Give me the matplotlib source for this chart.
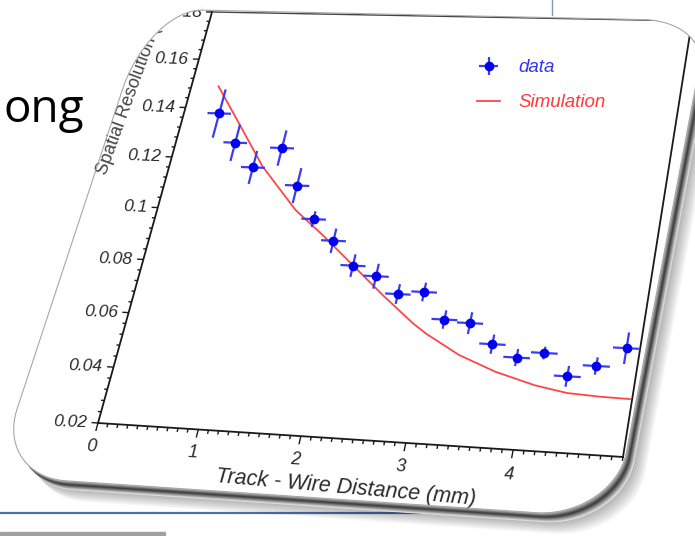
import numpy as np
import matplotlib
matplotlib.use("Agg")
import matplotlib.pyplot as plt
from matplotlib.transforms import Transform, Affine2D
from matplotlib.patches import Polygon, Rectangle
from matplotlib.collections import LineCollection

# ---------------- data ----------------
x_data = [0.375, 0.625, 0.875, 1.125, 1.375, 1.625, 1.875, 2.125, 2.375, 2.625,
          2.875, 3.125, 3.375, 3.625, 3.875, 4.125, 4.375, 4.625, 4.875]
y_data = [0.138, 0.1265, 0.117, 0.125, 0.1106, 0.098, 0.0902, 0.0813, 0.0778, 0.0717,
          0.0729, 0.0634, 0.0626, 0.0556, 0.0514, 0.0535, 0.0459, 0.0500, 0.0567]
x_err = [0.125] * 19
y_err = [0.0098, 0.0073, 0.0065, 0.0070, 0.0068, 0.0030, 0.0046, 0.0042, 0.0046, 0.0036,
         0.0034, 0.0033, 0.0039, 0.0034, 0.0030, 0.0022, 0.0036, 0.0030, 0.0055]
sim_x = [0.29, 0.64, 0.97, 1.42, 1.77, 2.10, 2.49, 2.83, 2.98, 3.33, 3.70, 4.09, 4.40, 4.71, 4.98]
sim_y = [0.149, 0.1329, 0.1176, 0.1012, 0.0917, 0.0821, 0.0708, 0.0615, 0.0580, 0.0512,
         0.0461, 0.0422, 0.0402, 0.0396, 0.0394]
x_ticks = [0, 1, 2, 3, 4]
x_tick_labels = ["0", "1", "2", "3", "4"]
y_ticks = [0.02, 0.04, 0.06, 0.08, 0.10, 0.12, 0.14, 0.16, 0.18]
y_tick_labels = ["0.02", "0.04", "0.06", "0.08", "0.1", "0.12", "0.14", "0.16", "0.18"]
x_label = "Track - Wire Distance (mm)"
y_label = "Spatial Resolution (mm)"
legend_labels = ["data", "Simulation"]
XMIN, XMAX, YMIN, YMAX = 0.0, 5.0, 0.02, 0.18


# ---------------- perspective transform ----------------
class Homography(Transform):
    input_dims = 2
    output_dims = 2
    is_separable = False
    has_inverse = True

    def __init__(self, H):
        super().__init__()
        self.H = np.asarray(H, float)

    def transform_non_affine(self, values):
        v = np.asarray(values, float)
        shp = v.shape
        v = v.reshape(-1, 2)
        p = np.column_stack([v, np.ones(len(v))]) @ self.H.T
        out = p[:, :2] / p[:, 2:3]
        return out.reshape(shp)

    def inverted(self):
        return Homography(np.linalg.inv(self.H))


def solve_h(src, dst):
    A, b = [], []
    for (x, y), (u, v) in zip(src, dst):
        A.append([x, y, 1, 0, 0, 0, -u * x, -u * y]); b.append(u)
        A.append([0, 0, 0, x, y, 1, -v * x, -v * y]); b.append(v)
    h = np.linalg.solve(np.array(A, float), np.array(b, float))
    return np.append(h, 1.0).reshape(3, 3)


W, HH = 695, 536
DPI = 100
fig = plt.figure(figsize=(W / DPI, HH / DPI), dpi=DPI)
bg = fig.add_axes([0, 0, 1, 1])
bg.set_xlim(0, W)
bg.set_ylim(HH, 0)
bg.axis("off")
bg.set_autoscale_on(False)

# ---------------- slide background ----------------
bg.plot([0, 470], [513, 513], color="#4f6fa8", lw=1.6, zorder=0.5)
bg.add_patch(Rectangle((0, 532), 165, 6, color="#a0a0a0", zorder=0.5))
bg.plot([552, 552], [0, 15], color="#8498bb", lw=1.0, zorder=0.5)
bg.text(3, 122, "ong", fontsize=33, family="Open Sans", color="black",
        va="baseline", ha="left", zorder=0.6)

# ---------------- card ----------------
card_H = solve_h([(0, 0), (1, 0), (1, 1), (0, 1)],
                 [(-5, 476), (614, 518), (708, 21), (149, 9)])
card_hom = Homography(card_H)
card_tr = card_hom + bg.transData


def rounded_rect(radii, n=40):
    (r1u, r1w), (r2u, r2w), (r3u, r3w), (r4u, r4w) = radii
    specs = [(1 - r1u, r1w, r1u, r1w, -90), (1 - r2u, 1 - r2w, r2u, r2w, 0),
             (r3u, 1 - r3w, r3u, r3w, 90), (r4u, r4w, r4u, r4w, 180)]
    pts = []
    for cx, cy, ru, rw, a0 in specs:
        a = np.radians(np.linspace(a0, a0 + 90, n))
        pts.append(np.column_stack([cx + ru * np.cos(a), cy + rw * np.sin(a)]))
    return np.vstack(pts)


card_pts = rounded_rect([(0.12, 0.12), (0.11, 0.10), (0.10, 0.19), (0.12, 0.13)])
for k in range(12):
    bg.add_patch(Polygon(card_pts, closed=True, fc="black", ec="none", alpha=0.028,
                         transform=card_tr + Affine2D().translate(8 + k * 1.0, -(9 + k * 1.1)),
                         zorder=1))
nb = 14
for i in range(nb, 0, -1):
    t = i / nb
    g = float(np.clip(0.22 + 1.25 * abs(t - 0.45), 0.22, 0.88))
    bg.add_patch(Polygon(card_pts, closed=True, fc=(g, g, g), ec="none",
                         transform=card_tr + Affine2D().translate(8 * t, -9.5 * t),
                         zorder=1.2))
card = Polygon(card_pts, closed=True, fc="white", ec="none",
               transform=card_tr, zorder=1.5)
bg.add_patch(card)
bg.add_patch(Polygon(card_pts, closed=True, fc="none", ec="#a8a8a8", lw=0.8,
                     transform=card_tr, zorder=3.7))

# white mask outside the card's top-left corner (hides text that leaves the card)
outline_px = card_hom.transform(card_pts)
sel = outline_px[(outline_px[:, 1] < 140) & (outline_px[:, 0] < 320)]
mask_pts = np.vstack([sel, [[92, sel[-1, 1]], [92, -2], [sel[0, 0], -2]]])
bg.add_patch(Polygon(mask_pts, closed=True, fc="white", ec="none", zorder=3.6))

# ---------------- plot in perspective ----------------
data_H = solve_h([(XMIN, YMIN), (XMAX, YMIN), (XMAX, YMAX), (XMIN, YMAX)],
                 [(98, 423), (623, 457), (692, 21), (212, 12)])
dtr = Homography(data_H) + bg.transData
clip_list = []

fr1, = bg.plot([XMIN, XMIN], [YMIN, YMAX], color="#1a1a1a", lw=1.3, transform=dtr, zorder=3)
fr2, = bg.plot([XMIN, XMAX], [YMIN, YMIN], color="#1a1a1a", lw=1.3, transform=dtr, zorder=3)
fr3, = bg.plot([XMIN, XMAX], [YMAX, YMAX], color="#444444", lw=1.0, transform=dtr, zorder=3)
fr4, = bg.plot([XMAX, XMAX], [YMIN, YMAX], color="#1a1a1a", lw=1.3, transform=dtr, zorder=3)
clip_list += [fr1, fr2, fr3, fr4]

segs = []
for i in range(0, 51):
    xv = XMIN + i * 0.1
    L = 0.0028 if (i % 10 == 0 and i < 50) else 0.0013
    segs.append([(xv, YMIN), (xv, YMIN - L)])
for j in range(0, 41):
    yv = YMIN + j * 0.004
    L = 0.065 if j % 5 == 0 else 0.032
    segs.append([(XMIN, yv), (XMIN - L, yv)])
tc = LineCollection(segs, colors="#1a1a1a", linewidths=1.0, transform=dtr, zorder=3)
bg.add_collection(tc)
clip_list.append(tc)

tick_font = dict(family="Liberation Sans", style="italic", color="#2a2a2a")
for xv, lbl in zip(x_ticks, x_tick_labels):
    bg.text(xv, YMIN - 0.0082, lbl, transform=dtr, ha="center", va="center",
            fontsize=13, rotation=-3, zorder=3, **tick_font)
for yv, lbl in zip(y_ticks, y_tick_labels):
    bg.text(XMIN - 0.11, yv, lbl, transform=dtr, ha="right", va="center",
            fontsize=12.5, rotation=-2, zorder=3, **tick_font)

bg.text(346, 488, x_label, rotation=-5, ha="center", va="center",
        rotation_mode="anchor", fontsize=15.5, zorder=3, **tick_font)
bg.text(102, 174, y_label, rotation=70, ha="left", va="center",
        rotation_mode="anchor", fontsize=13, family="Liberation Sans",
        color="#444444", zorder=3)

sim_line, = bg.plot(sim_x, sim_y, color="#ff4646", lw=1.3, transform=dtr, zorder=4)
clip_list.append(sim_line)

eb = bg.errorbar(x_data, y_data, yerr=y_err, xerr=x_err, fmt="o", color="#0000ee",
                 ecolor="#3c3cf0", elinewidth=1.6, markersize=6, capsize=0,
                 transform=dtr, zorder=5)
for art in eb.lines[2]:
    clip_list.append(art)
clip_list.append(eb.lines[0])

for a in clip_list:
    a.set_clip_path(card)

leg = bg.legend([eb, sim_line], legend_labels, loc="upper left",
                bbox_to_anchor=(468, 50), bbox_transform=bg.transData,
                frameon=False, prop=dict(family="Liberation Sans", style="italic", size=13.5),
                handlelength=1.2, handletextpad=1.0, labelspacing=0.95, borderpad=0)
for txt, c in zip(leg.get_texts(), ["#3535f0", "#ff3a3a"]):
    txt.set_color(c)
leg.set_zorder(6)

bg.set_xlim(0, W)
bg.set_ylim(HH, 0)
fig.savefig("out.png", dpi=DPI)
